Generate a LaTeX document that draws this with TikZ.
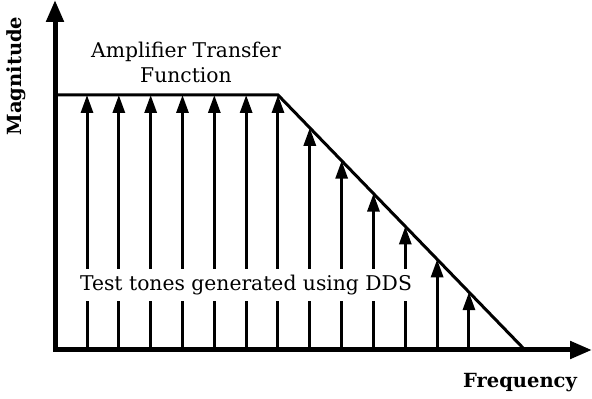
\documentclass[tikz,border=0pt]{standalone}
\usepackage{fontspec}
\setmainfont{DejaVu Serif}
\usetikzlibrary{arrows.meta, calc}

\begin{document}
\begin{tikzpicture}[
  x=1pt, y=1pt,
  axis/.style={line width=5pt, line cap=rect, -{Triangle[length=22pt, width=17pt]}},
  curve/.style={line width=3pt, line join=miter},
  tone/.style={line width=3pt, -{Triangle[length=18pt, width=12pt]}},
  lbl/.style={font=\fontsize{20.3}{25}\selectfont, align=center},
  axlbl/.style={font=\fontsize{19.5}{22}\selectfont\bfseries}
]
\useasboundingbox (0,0) rectangle (592,399);
\coordinate (origin) at (55,49);
\coordinate (ytop) at (55,399);
\coordinate (xend) at (592,49);
\coordinate (start) at (55,304);
\coordinate (knee) at (278,304);
\coordinate (cutoff) at (525,49);

% test tones
\foreach \i in {0,...,12} {
  \pgfmathsetmacro{\xx}{87+31.83*\i}
  \pgfmathsetmacro{\yy}{\i<7 ? 304 : 304-(\xx-278)/247*255}
  \coordinate (b\i) at (\xx,49);
  \coordinate (t\i) at (\xx,\yy);
  \draw[tone] (b\i) -- (t\i);
}
\node[lbl, fill=white, inner xsep=0pt, inner ysep=6pt] (tones) at (246,114) {Test tones generated using DDS};

% transfer function
\draw[curve] (start) -- (knee) -- (cutoff);
\node[lbl] (amp) at (186,337) {Amplifier Transfer\\Function};

% axes
\draw[axis] (origin) -- (ytop);
\draw[axis] (origin) -- (xend);
\node[axlbl, rotate=90] (mag) at (16,323) {Magnitude};
\node[axlbl] (freq) at (520,16) {Frequency};
\end{tikzpicture}
\end{document}
